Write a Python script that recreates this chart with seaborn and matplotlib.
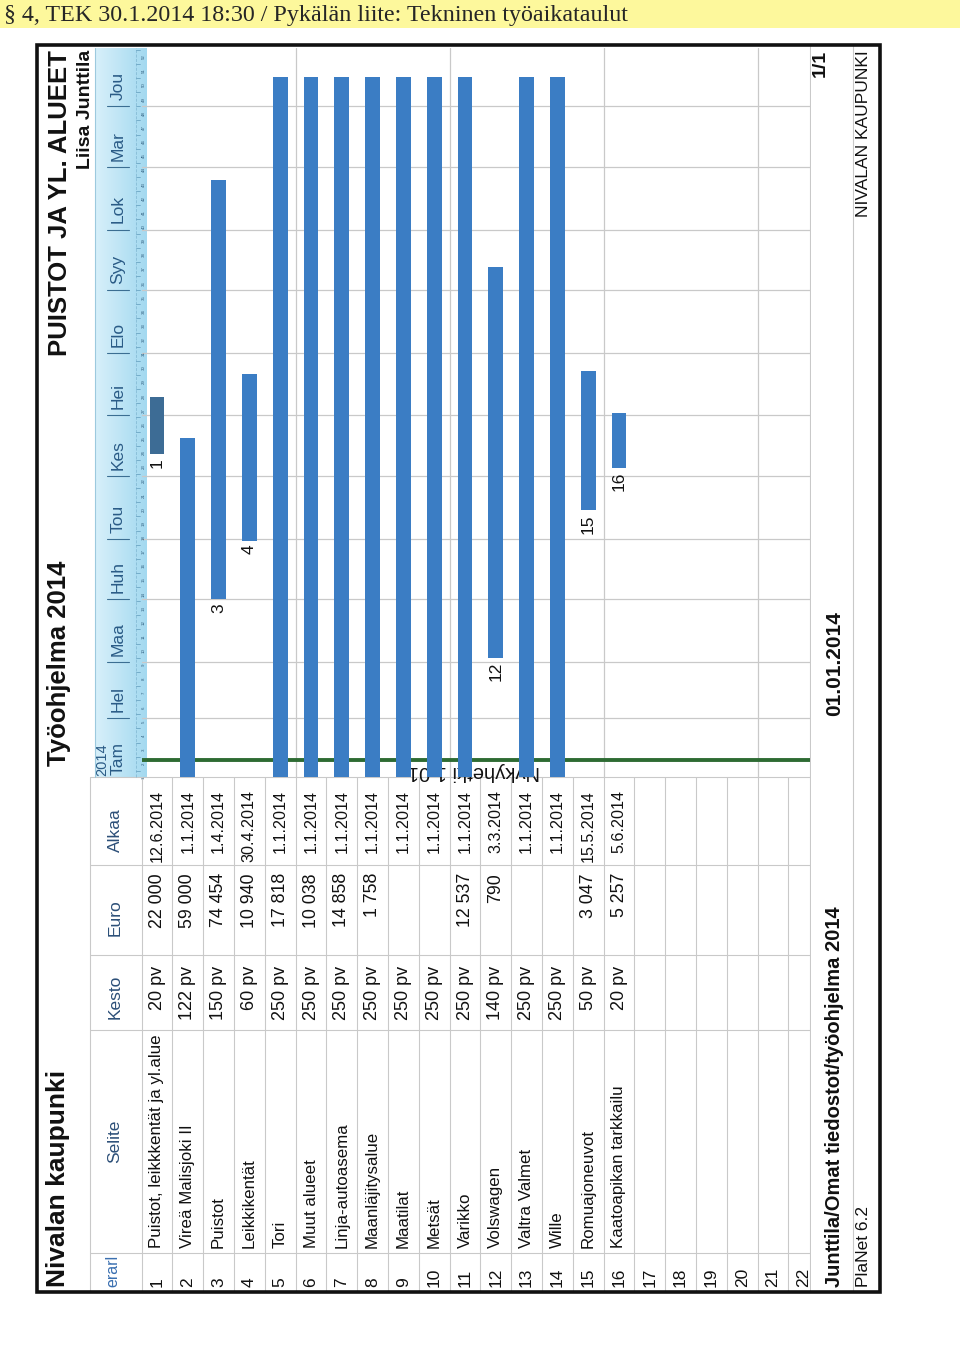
import numpy as np
import pandas as pd
import matplotlib
matplotlib.use("Agg")
import matplotlib.pyplot as plt
import seaborn as sns
from matplotlib.patches import Rectangle
from matplotlib.colors import LinearSegmentedColormap
from matplotlib.transforms import blended_transform_factory
from datetime import date

# ---------------- data ----------------
row_ids = [str(i) for i in range(1, 23)]
task_ids = [str(i) for i in range(1, 17)]
selite = ["Puistot, leikkkentät ja yl.alue", "Vireä Malisjoki II", "Puistot", "Leikkikentät",
          "Tori", "Muut alueet", "Linja-autoasema", "Maanläjitysalue", "Maatilat", "Metsät",
          "Varikko", "Volswagen", "Valtra Valmet", "Wille", "Romuajoneuvot",
          "Kaatoapikan tarkkailu"]
kesto = ["20 pv", "122 pv", "150 pv", "60 pv", "250 pv", "250 pv", "250 pv", "250 pv",
         "250 pv", "250 pv", "250 pv", "140 pv", "250 pv", "250 pv", "50 pv", "20 pv"]
euro = ["22 000", "59 000", "74 454", "10 940", "17 818", "10 038", "14 858", "1 758",
        "", "", "12 537", "790", "", "", "3 047", "5 257"]
alkaa = ["12.6.2014", "1.1.2014", "1.4.2014", "30.4.2014", "1.1.2014", "1.1.2014",
         "1.1.2014", "1.1.2014", "1.1.2014", "1.1.2014", "1.1.2014", "3.3.2014",
         "1.1.2014", "1.1.2014", "15.5.2014", "5.6.2014"]
# end of each bar, day of year
end_day = [190, 170, 297.5, 201.5, 348.5, 348.5, 348.5, 348.5, 348.5, 348.5, 348.5,
           254.5, 348.5, 348.5, 203, 182]
labelled = ["1", "3", "4", "12", "15", "16"]
months = ["Tam", "Hel", "Maa", "Huh", "Tou", "Kes", "Hei", "Elo", "Syy", "Lok", "Mar", "Jou"]
today_day = 10.4
today_text = "Nykyhetki 1.01"

# ---------------- helpers ----------------
Y0 = date(2014, 1, 1)


def doy(s):
    d, m, y = (int(v) for v in s.split("."))
    return (date(y, m, d) - Y0).days


start_day = [doy(s) for s in alkaa]
month_day = [(date(2014, m, 1) - Y0).days for m in range(1, 13)]

df = pd.DataFrame({"row": task_ids, "start": start_day,
                   "dur": np.array(end_day) - np.array(start_day)})

sns.set_theme(style="white")
plt.rcParams["font.family"] = ["Liberation Sans", "DejaVu Sans"]

W, H = 960, 1356
fig = plt.figure(figsize=(9.6, 13.56), dpi=100)
fig.patch.set_facecolor("white")


def fax(x0, y0, x1, y1):
    return [x0 / W, 1 - y1 / H, (x1 - x0) / W, (y1 - y0) / H]


bg = fig.add_axes([0, 0, 1, 1], zorder=0)
bg.axis("off")

GRID = "#c9c9c9"
ROW0, PITCH = 157.0, 30.8
TXT = "#111111"


def rc(i):
    return ROW0 + PITCH * (i - 1)


def vtext(x, y, s, ha="left", **kw):
    bg.text(x, y, s, rotation=90, rotation_mode="anchor", ha=ha, va="center", **kw)


# top yellow strip
bg.add_patch(Rectangle((0, 0), W, 28, color="#fdf89c", zorder=1, lw=0))
bg.text(4, 15, "§ 4, TEK 30.1.2014 18:30 / Pykälän liite: Tekninen työaikataulut",
        family=["Liberation Serif", "DejaVu Serif"], fontsize=17.3, va="center", ha="left",
        zorder=2)

# header gradient band (time part)
grad = np.linspace(0, 1, 64).reshape(1, -1)
cmap = LinearSegmentedColormap.from_list("hb", ["#d8f0fa", "#a3d9f0"])
bg.imshow(grad, extent=(95, 147, 777, 48), cmap=cmap, aspect="auto", zorder=1)

# table lines
for k in range(0, 22):
    x = 141.6 + PITCH * k
    bg.plot([x, x], [777, 1292], color=GRID, lw=0.8, zorder=2)
for y in [777, 865, 955, 1030, 1253]:
    bg.plot([90, 810], [y, y], color=GRID, lw=0.8, zorder=2)
bg.plot([90, 90], [777, 1292], color=GRID, lw=0.8, zorder=2)
bg.plot([95, 95], [48, 777], color="#9cc9de", lw=0.8, zorder=2)
bg.plot([810, 810], [45, 1292], color=GRID, lw=0.8, zorder=2)

# table header
HC = "#2c4f78"
vtext(115, 1141, "Selite", ha="center", fontsize=12.5, color=HC, zorder=3)
vtext(115, 997, "Kesto", ha="center", fontsize=12.5, color=HC, zorder=3)
vtext(115, 918, "Euro", ha="center", fontsize=12.5, color=HC, zorder=3)
vtext(115, 830, "Alkaa", ha="center", fontsize=12.5, color=HC, zorder=3)
vtext(113, 1255, "erarl", ha="right", fontsize=11.5, color="#3a6fb0", zorder=3)

# table body
for i, rid in enumerate(row_ids, start=1):
    vtext(rc(i), 1287, rid, ha="left", fontsize=12.5, color=TXT, zorder=3)
for i in range(len(task_ids)):
    x = rc(i + 1)
    vtext(x, 1248, selite[i], ha="left", fontsize=12.2, color=TXT, zorder=3)
    vtext(x, 966, kesto[i], ha="right", fontsize=13, color=TXT, zorder=3)
    if euro[i]:
        vtext(x, 873, euro[i], ha="right", fontsize=12.8, color=TXT, zorder=3)
    vtext(x, 790, alkaa[i], ha="right", fontsize=11.6, color=TXT, zorder=3)

# footer area (hides the cut row 22)
bg.add_patch(Rectangle((811, 47), 67, 1244, color="white", lw=0, zorder=4))
bg.plot([853, 853], [45, 1292], color=GRID, lw=0.8, zorder=5)
vtext(835, 1287, "Junttila/Omat tiedostot/työohjelma 2014", ha="left", fontsize=14.5,
      fontweight="bold", color=TXT, zorder=6)
vtext(835, 716, "01.01.2014", ha="left", fontsize=15, fontweight="bold", color=TXT, zorder=6)
vtext(820, 50, "1/1", ha="right", fontsize=14, fontweight="bold", color=TXT, zorder=6)
vtext(864, 1287, "PlaNet 6.2", ha="left", fontsize=12.5, color=TXT, zorder=6)
vtext(864, 50, "NIVALAN KAUPUNKI", ha="right", fontsize=12.5, color=TXT, zorder=6)

# titles
vtext(58, 1287, "Nivalan kaupunki", ha="left", fontsize=19, fontweight="bold",
      color=TXT, zorder=6)
vtext(59, 766, "Työohjelma 2014", ha="left", fontsize=18.5, fontweight="bold",
      color=TXT, zorder=6)
vtext(60, 50, "PUISTOT JA YL. ALUEET", ha="right", fontsize=18.5, fontweight="bold",
      color=TXT, zorder=6)
vtext(85, 50, "Liisa Junttila", ha="right", fontsize=14, fontweight="bold",
      color=TXT, zorder=6)

# outer frame
bg.add_patch(Rectangle((37, 45), 843, 1247, fill=False, ec=TXT, lw=2.6, zorder=7))

bg.set_xlim(0, W)
bg.set_ylim(H, 0)

# ---------------- gantt chart ----------------
ax = fig.add_axes(fax(141.6, 48, 810, 777), zorder=2)
ax.patch.set_alpha(0)

for d in month_day[1:]:
    ax.axhline(d, color=GRID, lw=0.9, zorder=1)
for k in [4.5, 9.5, 14.5, 19.5]:
    ax.axvline(k, color=GRID, lw=0.9, zorder=1)
ax.axhline(today_day, color="#2e6b33", lw=2.8, zorder=2)
ax.text(10.3, today_day - 1.2, today_text, rotation=180, rotation_mode="anchor",
        ha="center", va="bottom", fontsize=14.5, color=TXT, zorder=2.5)

sns.barplot(data=df, x="row", y="dur", order=row_ids, bottom=df["start"].to_numpy(),
            width=0.48, color="#3b7dc4", saturation=1, errorbar=None, ax=ax, zorder=3,
            linewidth=0)
ax.patches[0].set_facecolor("#3d6c95")

for rid in labelled:
    i = task_ids.index(rid)
    ax.text(row_ids.index(rid), start_day[i] - 2.0, rid, rotation=90, rotation_mode="anchor",
            ha="right", va="center", fontsize=12.5, color=TXT, zorder=4)

ax.set_xlim(-0.5, (810 - ROW0) / PITCH)
ax.set_ylim((781 - 777) / 2.02, (781 - 48) / 2.02)
ax.set_xticks([])
ax.set_yticks([])
ax.set_xlabel("")
ax.set_ylabel("")
sns.despine(ax=ax, left=True, bottom=True)

# timeline header (x in page px, y in days)
tr = blended_transform_factory(bg.transData, ax.transData)
MC = "#2a5b86"
for m, d in zip(months, month_day):
    ax.text(118, d + 3, m, transform=tr, rotation=90, rotation_mode="anchor", ha="left",
            va="center", fontsize=12.5, color=MC, zorder=5, clip_on=False)
    if d > 0:
        ax.plot([107, 129], [d, d], transform=tr, color="#3b6e92", lw=0.8, zorder=5,
                clip_on=False)
ax.text(102, 2.5, "2014", transform=tr, rotation=90, rotation_mode="anchor", ha="left",
        va="center", fontsize=10.5, color=MC, zorder=5, clip_on=False)
ax.plot([136, 136], [2, 362.9], transform=tr, color="#86bcd6", lw=0.6, ls="--",
        zorder=5, clip_on=False)
for w in range(1, 53):
    b = 7 * w - 2
    ax.plot([136, 140], [b, b], transform=tr, color="#5f9bbb", lw=0.5, zorder=5,
            clip_on=False)
    ax.text(143.5, 7 * w - 5.5, str(w), transform=tr, rotation=90, rotation_mode="anchor",
            ha="center", va="center", fontsize=3.2, color="#2f5f80", zorder=5,
            clip_on=False)

fig.savefig("out.png", dpi=100, facecolor="white")
